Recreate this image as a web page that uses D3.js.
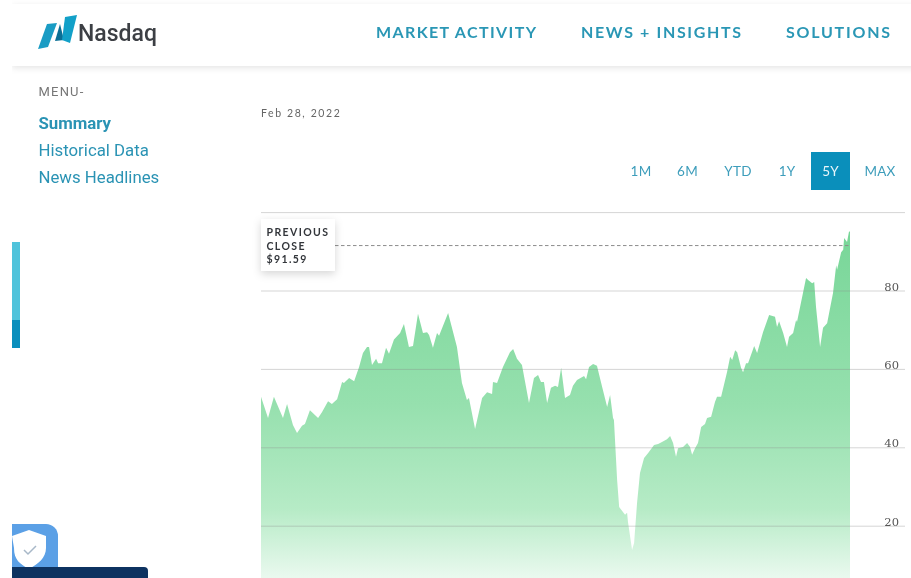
<!DOCTYPE html>
<html><head><meta charset="utf-8">
<script src="https://cdn.jsdelivr.net/npm/d3@7/dist/d3.min.js"></script>
<style>html,body{margin:0;padding:0;background:#fff;overflow:hidden}svg{display:block;filter:blur(.4px)}</style>
</head><body><svg id="c" width="911" height="578"></svg>
<script>
const navItems = ["MARKET ACTIVITY","NEWS + INSIGHTS","SOLUTIONS"];
const menuItems = ["Summary","Historical Data","News Headlines"];
const rangeItems = ["1M","6M","YTD","1Y","5Y","MAX"];
const yTicks = [20,40,60,80,100];
const previousClose = 91.59;
const chartDate = "Feb 28, 2022";
const weeks = [0,3.1,5.7,9.7,11.5,14.1,15.9,18.1,19.4,21.6,25.2,26.9,29.6,31.3,33.6,35.8,36.6,38.9,41.1,43.3,45,46.8,47.7,49,50.8,51.7,53.4,55.2,56.5,58.7,61.4,63.1,65.3,67.1,69.3,71.5,73.3,74.2,75.9,77.7,78.6,82.6,86.5,88.7,90.9,91.8,94.5,97.6,99.8,102,102.4,104.2,106.8,109.9,111.3,113,115.2,118.3,120.5,122.3,123.6,124.9,126.3,128,129.8,131.1,132.5,134.2,136.4,137.7,139.5,142.6,143.5,144.8,146.6,148.3,150.6,152.8,154.1,155.4,155.8,157.2,158.1,160.7,161.6,162,163.8,164.7,166,167.3,169.1,170.9,173.5,175.3,177,179.2,180.6,181.9,183.2,184.1,186.3,188.1,189.4,190.3,191.6,192.9,194.3,196,196.9,198.7,200.4,201.3,203.1,205.7,207.1,208,209.3,210.2,211.9,212.8,214.1,215,217.7,219,221.6,224.3,226.9,227.8,228.7,230.5,232.2,233.1,234.9,236.2,236.6,240.6,241.5,243.3,244.2,245,246.8,248.1,249.9,252.5,253.9,254.3,256.1,257,257.4,258.7,259.6,260];
const closes = [53,47.6,53,47.6,51.2,45.8,43.8,45.6,46.1,49.6,47.6,49.1,51.9,51.2,52.4,56.8,56.5,57.8,57,60.6,64.2,65.7,65.7,61.1,62.7,61.6,61.6,65.5,64,67.6,69.3,71.6,65.7,66,74.2,69.3,69.5,68.8,65.5,69.3,68.6,74.4,65.7,56.5,52.2,52.7,44.8,52.7,54.2,53.7,56.8,56.5,60.6,64.4,65.2,62.7,61.1,51.4,57.8,58.6,56.8,56.8,51.4,55.3,55.8,55.5,60.4,52.7,53.5,55.8,57.3,58.3,57.5,60.6,61.4,60.9,55.5,50.4,53.5,47.6,47.1,31.8,24.9,22.9,23.4,21.1,13.9,15.7,25.9,33.6,37.4,38.7,40.7,41,41.5,42.2,43,41.2,37.7,39.9,40.2,41.2,40.2,38.2,39.9,41.2,45.3,46.1,47.6,47.9,51.7,53,53,59.3,63.2,62.4,64.9,64.4,60.4,59.3,61.6,61.6,66,64.2,69.5,73.9,73.4,70.8,72.3,69.3,65.7,68.3,69.3,72.6,72.1,83.3,82.8,82,82.3,75.9,65.7,70.6,71.8,79.5,86.6,85.4,89.9,90.5,93.5,92.5,95.3,95];

const svg = d3.select("#c");
const x = d3.scaleLinear().domain([0,260]).range([261,850]);
const y = d3.scaleLinear().domain([0,100]).range([604.6,212.6]);
const pts = d3.zip(weeks, closes);

const defs = svg.append("defs");
const grad = defs.append("linearGradient").attr("id","g").attr("gradientUnits","userSpaceOnUse")
  .attr("x1",0).attr("x2",0).attr("y1",231).attr("y2",578);
[[0,"#78d698"],[.5,"#96e0ae"],[.8,"#b6ebc6"],[1,"#eaf9ef"]].forEach(s=>grad.append("stop").attr("offset",s[0]).attr("stop-color",s[1]));
const sh = defs.append("filter").attr("id","sh").attr("x","-30%").attr("y","-30%").attr("width","160%").attr("height","170%");
sh.append("feDropShadow").attr("dx",0).attr("dy",3).attr("stdDeviation",4).attr("flood-color","#000").attr("flood-opacity",.16);
const hs = defs.append("filter").attr("id","hs").attr("x","-5%").attr("y","-30%").attr("width","110%").attr("height","170%");
hs.append("feDropShadow").attr("dx",0).attr("dy",2).attr("stdDeviation",3).attr("flood-color","#000").attr("flood-opacity",.1);
defs.append("clipPath").attr("id","hc").append("rect").attr("x",12).attr("y",0).attr("width",899).attr("height",80);

// header
svg.append("g").attr("clip-path","url(#hc)").append("rect").attr("x",12).attr("y",4).attr("width",910).attr("height",62).attr("fill","#fff").attr("filter","url(#hs)");
const logo = svg.append("g");
[["38,49 47,24 57,23 48,47","#1a9cc4"],["55,41 60,24 64,40","#0b6f95"],["65,17 77,15 70,43 62,40","#12a0c8"]]
 .forEach(p=>logo.append("polygon").attr("points",p[0]).attr("fill",p[1]));
svg.append("text").attr("x",78).attr("y",41).attr("font-family","Roboto").attr("font-weight",500).attr("font-size",23).attr("fill","#3c3f44").text("Nasdaq");
const navX = [376,581,786];
const navW = [160,160,104];
svg.selectAll(".nav").data(navItems).join("text").attr("class","nav")
  .attr("x",(d,i)=>navX[i]).attr("y",38).attr("font-family","Lato").attr("font-weight",700)
  .attr("font-size",16).attr("textLength",(d,i)=>navW[i]).attr("lengthAdjust","spacing").attr("fill","#2a97b5").text(d=>d);

// menu
svg.append("text").attr("x",38.5).attr("y",96).attr("font-family","Roboto").attr("font-size",13).attr("letter-spacing",1.2).attr("fill","#777").text("MENU-");
svg.selectAll(".menu").data(menuItems).join("text").attr("class","menu")
  .attr("x",38.5).attr("y",(d,i)=>128.5+i*27).attr("font-family","Roboto")
  .attr("font-weight",(d,i)=>i?400:700).attr("font-size",16.8).attr("fill","#2a93b4").text(d=>d);

// side bars
svg.append("rect").attr("x",12).attr("y",242).attr("width",8).attr("height",78).attr("fill","#4fc3db");
svg.append("rect").attr("x",12).attr("y",320).attr("width",8).attr("height",28).attr("fill","#0a8fbd");

// date
svg.append("text").attr("x",261).attr("y",117).attr("font-family","Lato").attr("font-weight",400).attr("font-size",10.5).attr("letter-spacing",1.6).attr("fill","#666").text(chartDate);

// range selector
const rangeX = [641,687.5,738,787,830.5,880];
svg.append("rect").attr("x",811).attr("y",152).attr("width",39).attr("height",38).attr("fill","#0a8fbb");
svg.selectAll(".rng").data(rangeItems).join("text").attr("class","rng")
  .attr("x",(d,i)=>rangeX[i]).attr("y",176).attr("text-anchor","middle").attr("font-family","Lato").attr("font-size",13.5)
  .attr("letter-spacing",.2).attr("fill",d=>d==="5Y"?"#e8f6fa":"#3d9dbb").text(d=>d);

// area
const area = d3.area().x(d=>x(d[0])).y0(578).y1(d=>y(d[1]));
svg.append("path").datum(pts).attr("d",area).attr("fill","url(#g)");

// grid
svg.selectAll(".gr").data(yTicks).join("line").attr("class","gr")
  .attr("x1",261).attr("x2",905).attr("y1",d=>y(d)).attr("y2",d=>y(d))
  .attr("stroke","#8a8a8a").attr("stroke-opacity",.36).attr("stroke-width",1);
svg.selectAll(".tl").data(yTicks.filter(d=>d<100)).join("text").attr("class","tl")
  .attr("x",899).attr("y",d=>y(d)-.5).attr("text-anchor","end").attr("font-family","DejaVu Serif").attr("font-size",11.5).attr("fill","#555").text(d=>d);

// previous close
svg.append("line").attr("x1",335).attr("x2",850).attr("y1",y(previousClose)).attr("y2",y(previousClose))
  .attr("stroke","#8c8c8c").attr("stroke-width",1).attr("stroke-dasharray","3.5,2.5");
svg.append("rect").attr("x",261).attr("y",219).attr("width",74).attr("height",52).attr("fill","#fff").attr("filter","url(#sh)");
["PREVIOUS","CLOSE","$"+previousClose].forEach((t,i)=>svg.append("text").attr("x",266.5).attr("y",236+i*13.5)
  .attr("font-family","Lato").attr("font-weight",700).attr("font-size",10.5).attr("letter-spacing",1.4).attr("fill","#33363b").text(t));

// privacy badge
svg.append("path").attr("d","M12,524H46a12,12 0 0 1 12,12V578H12Z").attr("fill","#5ba0e6");
svg.append("path").attr("d","M12,536 L29,530 L46,536 V548 C46,558 38,564 29,569 C20,564 14,560 14,548 Z").attr("fill","#fff");
svg.append("path").attr("d","M24,550 L28,554 L36,546").attr("fill","none").attr("stroke","#a8b8c8").attr("stroke-width",1.5);
svg.append("path").attr("d","M12,567H144a4,4 0 0 1 4,4V578H12Z").attr("fill","#0d3260");
</script></body></html>
